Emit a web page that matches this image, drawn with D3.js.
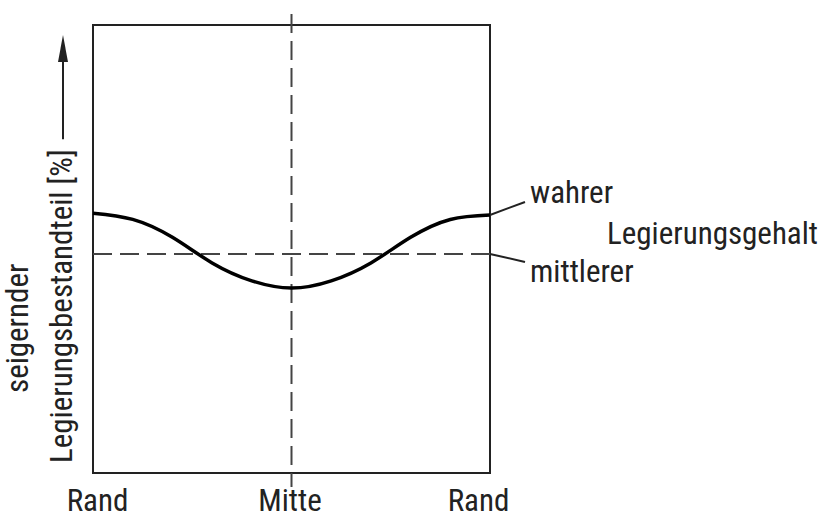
<!DOCTYPE html>
<html>
<head>
<meta charset="utf-8">
<script src="https://cdn.jsdelivr.net/npm/d3@7"></script>
<style>
    body { margin: 0; background: #fff; }
    svg text { font-family: "Liberation Sans Narrow", "Arial Narrow", "Roboto Condensed", sans-serif; fill: #222; }
</style>
</head>
<body>
<svg id="chart" width="829" height="518"></svg>
<script>
// position across the cross-section: 0 = Rand, 0.5 = Mitte, 1 = Rand
const positions = [0, 0.1, 0.2, 0.3, 0.4, 0.5, 0.6, 0.7, 0.8, 0.9, 1.0];
// true alloy content (% of axis height)
const trueContent = [58, 56.6, 52.6, 46.9, 42.9, 41.3, 42.9, 46.9, 52.6, 56.6, 57.6];
// mean alloy content
const meanContent = 48.9;

const tickPositions = [0, 0.5, 1];
const tickLabels = ["Rand", "Mitte", "Rand"];

const svg = d3.select("#chart");
const margin = { top: 25, left: 93 };
const width = 397, height = 448;
const fontSize = "31px";

const x = d3.scaleLinear().domain([0, 1]).range([margin.left, margin.left + width]);
const y = d3.scaleLinear().domain([0, 100]).range([margin.top + height, margin.top]);

// frame
svg.append("rect")
    .attr("x", x(0)).attr("y", y(100))
    .attr("width", x(1) - x(0)).attr("height", y(0) - y(100))
    .attr("fill", "none")
    .attr("stroke", "#222")
    .attr("stroke-width", 2);

// dashed centre line (Mitte), runs past the frame
svg.append("line")
    .attr("x1", x(0.5)).attr("x2", x(0.5))
    .attr("y1", y(100) - 11).attr("y2", y(0) + 14)
    .attr("stroke", "#444")
    .attr("stroke-width", 2)
    .attr("stroke-dasharray", "19,8");

// dashed mean line
svg.append("line")
    .attr("x1", x(0)).attr("x2", x(1))
    .attr("y1", y(meanContent)).attr("y2", y(meanContent))
    .attr("stroke", "#444")
    .attr("stroke-width", 2)
    .attr("stroke-dasharray", "19,8");

// true content curve
const line = d3.line()
    .x((d, i) => x(positions[i]))
    .y(d => y(d))
    .curve(d3.curveNatural);

svg.append("path")
    .datum(trueContent)
    .attr("d", line)
    .attr("fill", "none")
    .attr("stroke", "#000")
    .attr("stroke-width", 3.5);

// x axis labels
const xAxis = d3.axisBottom(x)
    .tickValues(tickPositions)
    .tickSize(0)
    .tickFormat((d, i) => tickLabels[i]);

const gx = svg.append("g")
    .attr("transform", `translate(0,${y(0)})`)
    .call(xAxis);
gx.select(".domain").remove();
gx.selectAll("text")
    .attr("y", 38)
    .attr("dy", 0)
    .attr("dx", (d, i) => i === 0 ? 4 : i === 2 ? -12 : -2)
    .style("font-size", fontSize)
    .style("font-family", null)
    .attr("fill", "#222");

// y axis title (rotated)
svg.append("text")
    .attr("transform", "translate(28,393) rotate(-90)")
    .style("font-size", fontSize)
    .text("seigernder");

const yTitle = svg.append("text")
    .attr("transform", "translate(72,463) rotate(-90)")
    .style("font-size", fontSize)
    .text("Legierungsbestandteil [%]");

// arrow after the title
const titleEnd = 463 - yTitle.node().getComputedTextLength();
svg.append("line")
    .attr("x1", 63).attr("x2", 63)
    .attr("y1", titleEnd - 10).attr("y2", 58)
    .attr("stroke", "#222")
    .attr("stroke-width", 2);
svg.append("path")
    .attr("d", "M63,35 L58,62 L68,62 Z")
    .attr("fill", "#222");

// annotations on the right
const xr = x(1);
svg.append("line")
    .attr("x1", xr).attr("y1", y(trueContent[trueContent.length - 1]))
    .attr("x2", xr + 35).attr("y2", y(trueContent[trueContent.length - 1]) - 13)
    .attr("stroke", "#222").attr("stroke-width", 2);
svg.append("line")
    .attr("x1", xr).attr("y1", y(meanContent))
    .attr("x2", xr + 35).attr("y2", y(meanContent) + 8)
    .attr("stroke", "#222").attr("stroke-width", 2);

svg.append("text").attr("x", 530).attr("y", 203).style("font-size", fontSize).text("wahrer");
svg.append("text").attr("x", 607).attr("y", 244).style("font-size", fontSize).text("Legierungsgehalt");
svg.append("text").attr("x", 530).attr("y", 282).style("font-size", fontSize).text("mittlerer");
</script>
</body>
</html>
